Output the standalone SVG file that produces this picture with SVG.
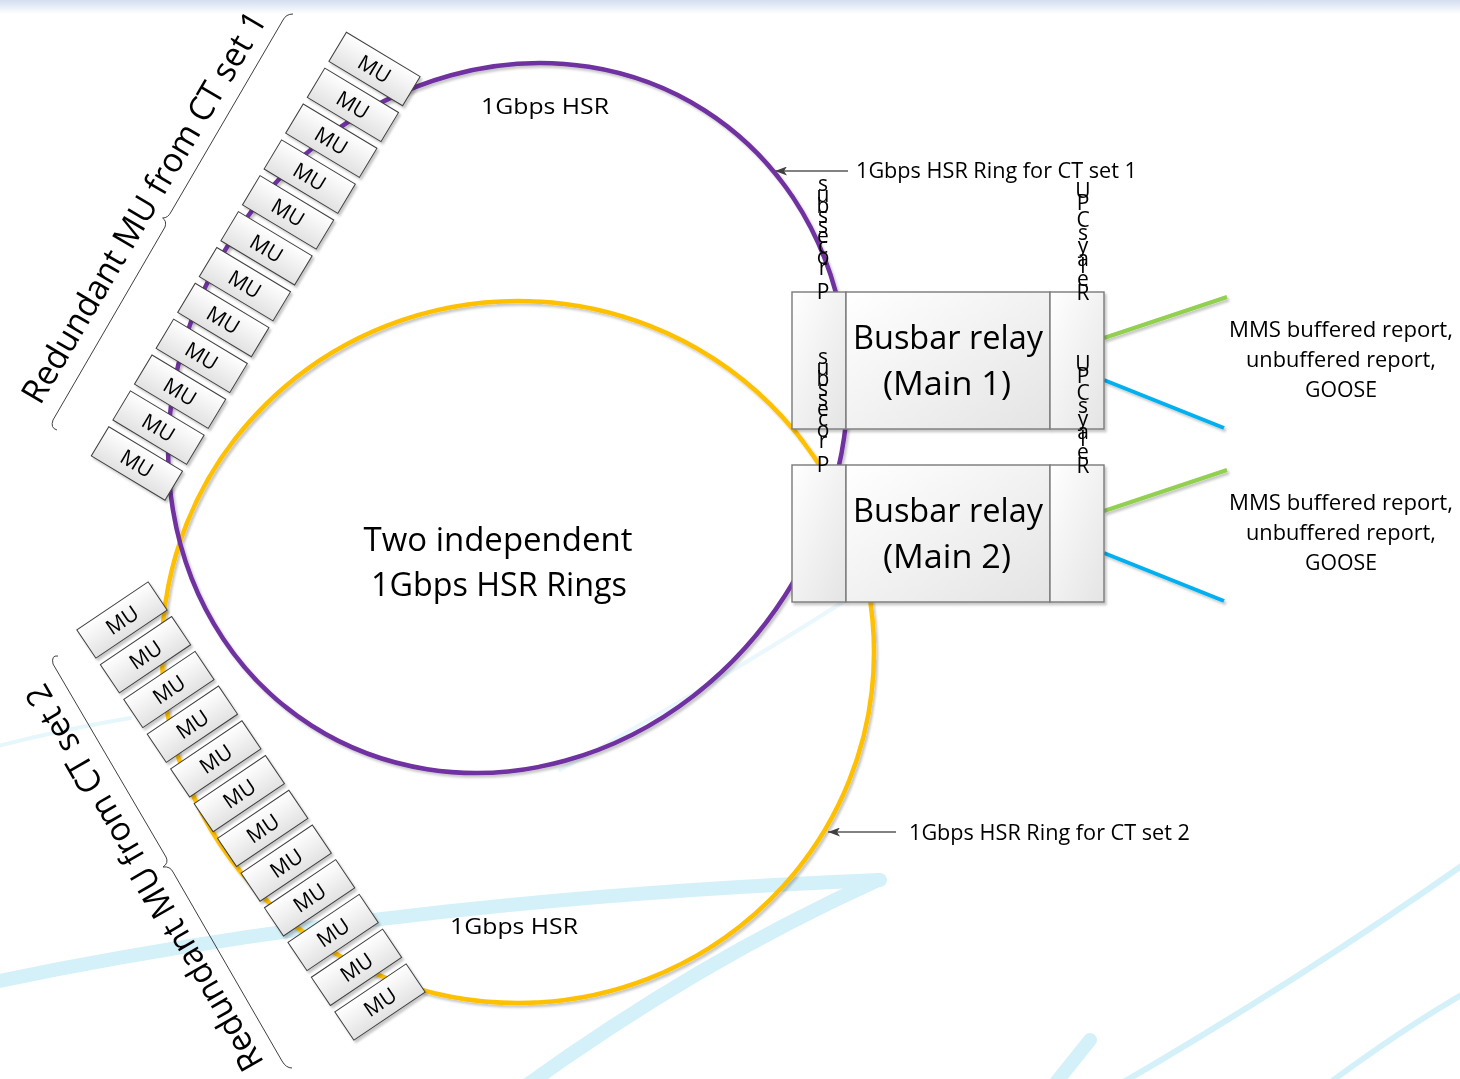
<svg xmlns="http://www.w3.org/2000/svg" width="1460" height="1079" viewBox="0 0 1460 1079">
  <defs>
    <linearGradient id="topband" x1="0" y1="0" x2="0" y2="1">
      <stop offset="0" stop-color="#d3def0"/>
      <stop offset="1" stop-color="#ffffff"/>
    </linearGradient>
    <linearGradient id="boxfill" x1="0" y1="0" x2="1" y2="1">
      <stop offset="0" stop-color="#ffffff"/>
      <stop offset="1" stop-color="#e4e4e4"/>
    </linearGradient>
    <linearGradient id="mufill" x1="0" y1="0" x2="0" y2="1">
      <stop offset="0" stop-color="#ffffff"/>
      <stop offset="1" stop-color="#e2e2e2"/>
    </linearGradient>
    <filter id="shadow" x="-10%" y="-10%" width="130%" height="130%">
      <feDropShadow dx="2" dy="2.5" stdDeviation="1.2" flood-color="#000" flood-opacity="0.22"/>
    </filter>
    <marker id="arrow" viewBox="0 0 12 9" refX="12" refY="4.5" markerWidth="12" markerHeight="9" orient="auto" markerUnits="userSpaceOnUse">
      <path d="M0 0 L12 4.5 L0 9 L3 4.5 Z" fill="#404040"/>
    </marker>
  </defs>
  <style>
    text { font-family: "Open Sans", "Noto Sans", "Liberation Sans", sans-serif; fill: #000; }
    .mu-box { fill: url(#mufill); stroke: #3f3f3f; stroke-width: 1; }
    .mu-text { font-size: 21px; text-anchor: middle; }
    .relay-part { fill: url(#boxfill); stroke: #7a7a7a; stroke-width: 1.4; }
    .relay-text { font-size: 33px; text-anchor: middle; }
    .stack { font-size: 21px; text-anchor: middle; }
    .ring { fill: none; stroke-width: 4.5; }
    .purple { stroke: #7030a0; }
    .yellow { stroke: #ffc000; }
    .green { stroke: #92d050; stroke-width: 4; }
    .blue { stroke: #00b0f0; stroke-width: 4; }
    .pointer { stroke: #595959; stroke-width: 1.6; fill: none; }
    .brace { fill: none; stroke: #3f3f3f; stroke-width: 1; }
    .label { font-size: 21px; }
    .note { font-size: 21px; text-anchor: middle; }
    .big { font-size: 33px; text-anchor: middle; }
    .side { font-size: 34px; text-anchor: middle; }
    .swoosh { fill: none; stroke: #cdeef8; stroke-linecap: round; }
  </style>

  <!-- page background -->
  <rect x="0" y="0" width="1460" height="1079" fill="#ffffff"/>
  <rect x="0" y="0" width="1460" height="14" fill="url(#topband)"/>

  <!-- decorative swooshes -->
  <g id="backdrop" opacity="0.85">
    <path class="swoosh" stroke-width="14" d="M -20 985 Q 380 900 880 880"/>
    <path class="swoosh" stroke-width="14" d="M 520 1090 Q 700 960 878 880"/>
    <path class="swoosh" stroke-width="14" d="M 1050 1090 L 1090 1040"/>
    <path class="swoosh" stroke-width="6" d="M 1110 1090 Q 1300 980 1470 860"/>
    <path class="swoosh" stroke-width="6" d="M 1320 1090 Q 1400 1030 1470 990"/>
    <path class="swoosh" stroke-width="4" opacity="0.6" d="M -10 748 Q 60 730 130 718"/>
    <path class="swoosh" stroke-width="4" opacity="0.5" d="M 560 770 Q 760 660 1000 500"/>
  </g>

  <!-- ring connectors -->
  <g id="connectors" filter="url(#shadow)">
    <ellipse class="ring yellow" cx="518" cy="652" rx="356" ry="351"/>
    <ellipse class="ring purple" cx="0" cy="0" rx="365" ry="329" transform="translate(508 418) rotate(-57.4)"/>
    <line class="green" x1="1104" y1="338" x2="1227" y2="297"/>
    <line class="blue" x1="1104" y1="380" x2="1224" y2="428"/>
    <line class="green" x1="1104" y1="511" x2="1227" y2="470"/>
    <line class="blue" x1="1104" y1="553" x2="1224" y2="601"/>
  </g>

  <!-- pointer arrows for ring captions -->
  <g id="pointers">
    <line class="pointer" x1="848" y1="171" x2="775" y2="171" marker-end="url(#arrow)"/>
    <line class="pointer" x1="896" y1="832" x2="828" y2="832" marker-end="url(#arrow)"/>
  </g>

  <!-- merging units, CT set 1 -->
  <g id="mu-set-1" filter="url(#shadow)">
    <g id="mu1-1" transform="translate(374.5 69) rotate(31)"><rect class="mu-box" x="-43" y="-17" width="86" height="34"/><text class="mu-text" y="7.5">MU</text></g>
    <g id="mu1-2" transform="translate(352.9 104.9) rotate(31)"><rect class="mu-box" x="-43" y="-17" width="86" height="34"/><text class="mu-text" y="7.5">MU</text></g>
    <g id="mu1-3" transform="translate(331.3 140.7) rotate(31)"><rect class="mu-box" x="-43" y="-17" width="86" height="34"/><text class="mu-text" y="7.5">MU</text></g>
    <g id="mu1-4" transform="translate(309.7 176.6) rotate(31)"><rect class="mu-box" x="-43" y="-17" width="86" height="34"/><text class="mu-text" y="7.5">MU</text></g>
    <g id="mu1-5" transform="translate(288.1 212.4) rotate(31)"><rect class="mu-box" x="-43" y="-17" width="86" height="34"/><text class="mu-text" y="7.5">MU</text></g>
    <g id="mu1-6" transform="translate(266.5 248.3) rotate(31)"><rect class="mu-box" x="-43" y="-17" width="86" height="34"/><text class="mu-text" y="7.5">MU</text></g>
    <g id="mu1-7" transform="translate(244.9 284.2) rotate(31)"><rect class="mu-box" x="-43" y="-17" width="86" height="34"/><text class="mu-text" y="7.5">MU</text></g>
    <g id="mu1-8" transform="translate(223.3 320) rotate(31)"><rect class="mu-box" x="-43" y="-17" width="86" height="34"/><text class="mu-text" y="7.5">MU</text></g>
    <g id="mu1-9" transform="translate(201.7 355.9) rotate(31)"><rect class="mu-box" x="-43" y="-17" width="86" height="34"/><text class="mu-text" y="7.5">MU</text></g>
    <g id="mu1-10" transform="translate(180.1 391.7) rotate(31)"><rect class="mu-box" x="-43" y="-17" width="86" height="34"/><text class="mu-text" y="7.5">MU</text></g>
    <g id="mu1-11" transform="translate(158.5 427.6) rotate(31)"><rect class="mu-box" x="-43" y="-17" width="86" height="34"/><text class="mu-text" y="7.5">MU</text></g>
    <g id="mu1-12" transform="translate(136.9 463.5) rotate(31)"><rect class="mu-box" x="-43" y="-17" width="86" height="34"/><text class="mu-text" y="7.5">MU</text></g>
  </g>

  <!-- merging units, CT set 2 -->
  <g id="mu-set-2" filter="url(#shadow)">
    <g id="mu2-1" transform="translate(122 620) rotate(-34)"><rect class="mu-box" x="-43" y="-17" width="86" height="34"/><text class="mu-text" y="7.5">MU</text></g>
    <g id="mu2-2" transform="translate(145.5 654.7) rotate(-34)"><rect class="mu-box" x="-43" y="-17" width="86" height="34"/><text class="mu-text" y="7.5">MU</text></g>
    <g id="mu2-3" transform="translate(168.9 689.5) rotate(-34)"><rect class="mu-box" x="-43" y="-17" width="86" height="34"/><text class="mu-text" y="7.5">MU</text></g>
    <g id="mu2-4" transform="translate(192.4 724.2) rotate(-34)"><rect class="mu-box" x="-43" y="-17" width="86" height="34"/><text class="mu-text" y="7.5">MU</text></g>
    <g id="mu2-5" transform="translate(215.8 758.9) rotate(-34)"><rect class="mu-box" x="-43" y="-17" width="86" height="34"/><text class="mu-text" y="7.5">MU</text></g>
    <g id="mu2-6" transform="translate(239.3 793.6) rotate(-34)"><rect class="mu-box" x="-43" y="-17" width="86" height="34"/><text class="mu-text" y="7.5">MU</text></g>
    <g id="mu2-7" transform="translate(262.7 828.4) rotate(-34)"><rect class="mu-box" x="-43" y="-17" width="86" height="34"/><text class="mu-text" y="7.5">MU</text></g>
    <g id="mu2-8" transform="translate(286.2 863.1) rotate(-34)"><rect class="mu-box" x="-43" y="-17" width="86" height="34"/><text class="mu-text" y="7.5">MU</text></g>
    <g id="mu2-9" transform="translate(309.6 897.8) rotate(-34)"><rect class="mu-box" x="-43" y="-17" width="86" height="34"/><text class="mu-text" y="7.5">MU</text></g>
    <g id="mu2-10" transform="translate(333.1 932.5) rotate(-34)"><rect class="mu-box" x="-43" y="-17" width="86" height="34"/><text class="mu-text" y="7.5">MU</text></g>
    <g id="mu2-11" transform="translate(356.5 967.3) rotate(-34)"><rect class="mu-box" x="-43" y="-17" width="86" height="34"/><text class="mu-text" y="7.5">MU</text></g>
    <g id="mu2-12" transform="translate(380 1002) rotate(-34)"><rect class="mu-box" x="-43" y="-17" width="86" height="34"/><text class="mu-text" y="7.5">MU</text></g>
  </g>

  <!-- busbar relay, main 1 -->
  <g id="relay-main-1">
    <g filter="url(#shadow)">
      <rect class="relay-part" x="792" y="292" width="54" height="137"/>
      <rect class="relay-part" x="846" y="292" width="204" height="137"/>
      <rect class="relay-part" x="1050" y="292" width="54" height="137"/>
    </g>
    <text class="relay-text" x="948" y="349" textLength="190" lengthAdjust="spacingAndGlyphs">Busbar relay</text>
    <text class="relay-text" x="947" y="395" textLength="128" lengthAdjust="spacingAndGlyphs">(Main 1)</text>
  </g>

  <!-- busbar relay, main 2 -->
  <g id="relay-main-2">
    <g filter="url(#shadow)">
      <rect class="relay-part" x="792" y="465" width="54" height="137"/>
      <rect class="relay-part" x="846" y="465" width="204" height="137"/>
      <rect class="relay-part" x="1050" y="465" width="54" height="137"/>
    </g>
    <text class="relay-text" x="948" y="522" textLength="190" lengthAdjust="spacingAndGlyphs">Busbar relay</text>
    <text class="relay-text" x="947" y="568" textLength="128" lengthAdjust="spacingAndGlyphs">(Main 2)</text>
  </g>

  <!-- stacked port captions on the relays -->
  <g id="port-captions">
    <text class="stack"><tspan x="823" y="191">s</tspan><tspan x="823" y="202">u</tspan><tspan x="823" y="213">b</tspan><tspan x="823" y="223">s</tspan><tspan x="823" y="233">s</tspan><tspan x="823" y="243">e</tspan><tspan x="823" y="253">c</tspan><tspan x="823" y="264">o</tspan><tspan x="823" y="275">r</tspan><tspan x="823" y="299">P</tspan></text>
    <text class="stack"><tspan x="823" y="364">s</tspan><tspan x="823" y="375">u</tspan><tspan x="823" y="386">b</tspan><tspan x="823" y="396">s</tspan><tspan x="823" y="406">s</tspan><tspan x="823" y="416">e</tspan><tspan x="823" y="426">c</tspan><tspan x="823" y="437">o</tspan><tspan x="823" y="448">r</tspan><tspan x="823" y="472">P</tspan></text>
    <text class="stack"><tspan x="1083" y="198">U</tspan><tspan x="1083" y="210">P</tspan><tspan x="1083" y="227">C</tspan><tspan x="1083" y="240">s</tspan><tspan x="1083" y="253">y</tspan><tspan x="1083" y="266">a</tspan><tspan x="1083" y="273">l</tspan><tspan x="1083" y="286">e</tspan><tspan x="1083" y="300">R</tspan></text>
    <text class="stack"><tspan x="1083" y="371">U</tspan><tspan x="1083" y="383">P</tspan><tspan x="1083" y="400">C</tspan><tspan x="1083" y="413">s</tspan><tspan x="1083" y="426">y</tspan><tspan x="1083" y="439">a</tspan><tspan x="1083" y="446">l</tspan><tspan x="1083" y="459">e</tspan><tspan x="1083" y="473">R</tspan></text>
  </g>

  <!-- braces grouping the merging units -->
  <g id="braces">
    <path class="brace" d="M 293 14 Q 286 14 283 20 L 171 212 Q 168 218 162.6 218 Q 167 221 165 227 L 53 420 Q 50 428 57 430"/>
    <path class="brace" d="M 58 656 Q 51 655 53 664 L 166 857 Q 169 863 163 867 Q 170 866 173 872 L 282 1061 Q 286 1068 292 1068"/>
  </g>

  <!-- captions -->
  <g id="captions">
    <text class="side" transform="translate(154 213) rotate(-59.5)" textLength="448" lengthAdjust="spacingAndGlyphs">Redundant MU from CT set 1</text>
    <text class="side" transform="translate(154.5 872) rotate(-120)" textLength="440" lengthAdjust="spacingAndGlyphs">Redundant MU from CT set 2</text>
    <text class="label" x="481" y="114" font-size="24" textLength="128" lengthAdjust="spacingAndGlyphs">1Gbps HSR</text>
    <text class="label" x="450" y="934" font-size="24" textLength="128" lengthAdjust="spacingAndGlyphs">1Gbps HSR</text>
    <text class="label" x="856" y="178" textLength="281" lengthAdjust="spacingAndGlyphs">1Gbps HSR Ring for CT set 1</text>
    <text class="label" x="909" y="840" textLength="281" lengthAdjust="spacingAndGlyphs">1Gbps HSR Ring for CT set 2</text>
    <text class="big" x="498" y="551" textLength="269" lengthAdjust="spacingAndGlyphs">Two independent</text>
    <text class="big" x="499" y="596" textLength="256" lengthAdjust="spacingAndGlyphs">1Gbps HSR Rings</text>
    <text class="note" x="1341" y="337" textLength="224" lengthAdjust="spacingAndGlyphs">MMS buffered report,</text>
    <text class="note" x="1341" y="367" textLength="190" lengthAdjust="spacingAndGlyphs">unbuffered report,</text>
    <text class="note" x="1341" y="397" textLength="72" lengthAdjust="spacingAndGlyphs">GOOSE</text>
    <text class="note" x="1341" y="510" textLength="224" lengthAdjust="spacingAndGlyphs">MMS buffered report,</text>
    <text class="note" x="1341" y="540" textLength="190" lengthAdjust="spacingAndGlyphs">unbuffered report,</text>
    <text class="note" x="1341" y="570" textLength="72" lengthAdjust="spacingAndGlyphs">GOOSE</text>
  </g>
</svg>
